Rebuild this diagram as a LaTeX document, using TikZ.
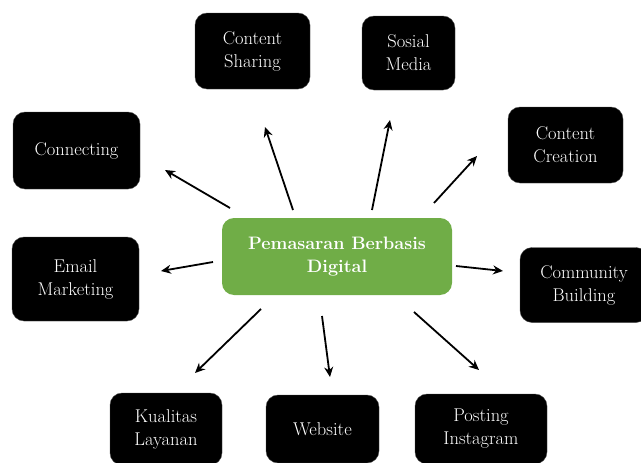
\documentclass[tikz,border=0pt]{standalone}
\usetikzlibrary{arrows.meta}
\begin{document}
\begin{tikzpicture}[x=1pt,y=-1pt,
  blk/.style={fill=black,draw=black!70,rounded corners=12pt,text=white,align=center,
    font=\fontsize{18.5}{23}\selectfont,inner sep=0pt},
  hub/.style={rounded corners=12pt,text=white,align=center,
    font=\fontsize{18}{23}\selectfont\bfseries,inner sep=0pt},
  arr/.style={line width=1.8pt,-{Stealth[length=10pt,width=9pt]}}]
\useasboundingbox (0,0) rectangle (641,463);
\clip (0,0) rectangle (641,463);
\definecolor{hubgreen}{HTML}{70AD47}
\node[hub,fill=hubgreen,minimum width=230pt,minimum height=77pt] (hub) at (337,256.5) {Pemasaran Berbasis\\Digital};
\node[blk,minimum width=115pt,minimum height=76pt] (cs) at (252.5,51) {Content\\Sharing};
\node[blk,minimum width=93pt,minimum height=74pt] (sm) at (408.5,53) {Sosial\\Media};
\node[blk,minimum width=127pt,minimum height=77pt] (cn) at (76.5,150.5) {Connecting};
\node[blk,minimum width=115pt,minimum height=76pt] (cc) at (565.5,145) {Content\\Creation};
\node[blk,minimum width=127pt,minimum height=84pt] (em) at (75.5,279) {Email\\Marketing};
\node[blk,minimum width=128pt,minimum height=75pt] (cb) at (584,285) {Community\\Building};
\node[blk,minimum width=112pt,minimum height=72pt] (kl) at (166,429) {Kualitas\\Layanan};
\node[blk,minimum width=113pt,minimum height=68pt] (ws) at (322.5,429) {Website};
\node[blk,minimum width=132pt,minimum height=70pt] (pi) at (481,429) {Posting\\Instagram};
\coordinate (s1) at (230,208); \coordinate (e1) at (165,170);
\coordinate (s2) at (293,210); \coordinate (e2) at (265,127);
\coordinate (s3) at (372,210); \coordinate (e3) at (390,120);
\coordinate (s4) at (434,203); \coordinate (e4) at (477,156);
\coordinate (s5) at (213,262); \coordinate (e5) at (161,271);
\coordinate (s6) at (456,266); \coordinate (e6) at (503,271);
\coordinate (s7) at (261,309); \coordinate (e7) at (195,373);
\coordinate (s8) at (322,316); \coordinate (e8) at (330,377);
\coordinate (s9) at (414,312); \coordinate (e9) at (479,370);
\draw[arr] (s1) -- (e1);
\draw[arr] (s2) -- (e2);
\draw[arr] (s3) -- (e3);
\draw[arr] (s4) -- (e4);
\draw[arr] (s5) -- (e5);
\draw[arr] (s6) -- (e6);
\draw[arr] (s7) -- (e7);
\draw[arr] (s8) -- (e8);
\draw[arr] (s9) -- (e9);
\end{tikzpicture}
\end{document}
